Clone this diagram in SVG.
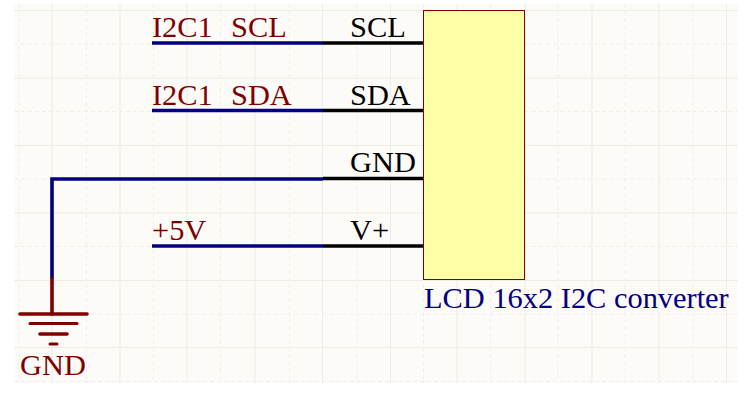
<svg xmlns="http://www.w3.org/2000/svg" width="754" height="408" viewBox="0 0 754 408">
<style>
text{font-family:"Liberation Serif","Times New Roman",serif;font-size:30.400px}
.net{fill:#800000}.pin{fill:#000}.cap{fill:#000080}
.wire{stroke:#000080;stroke-width:3.600;fill:none}
.lead{stroke:#000;stroke-width:3.600;fill:none}
.gnd{stroke:#800000;fill:none;stroke-linecap:round}
.g1{stroke:#efebe6;stroke-width:1;fill:none}
.g2{stroke:#f1eeea;stroke-width:1;fill:none;stroke-dasharray:4 3}
</style>
<rect width="754" height="408" fill="#fff"/>
<g id="grid">
<rect x="14" y="4" width="724" height="379" fill="#fdfbf8"/>
<path class="g1" d="M52 4V383M120 4V383M187 4V383M255 4V383M322.500 4V383M390.500 4V383M457 4V383M525 4V383M592 4V383M659 4V383M726.500 4V383M14 10.500H738M14 78H738M14 145.500H738M14 213H738M14 280.500H738M14 347.500H738"/>
<path class="g2" d="M19 4V383M86.500 4V383M153.500 4V383M220.500 4V383M289.500 4V383M357 4V383M423.500 4V383M490.500 4V383M558 4V383M625 4V383M693 4V383M14 44H738M14 111.500H738M14 179H738M14 246.500H738M14 314H738M14 381.500H738"/>
</g>
<g id="connectors">
<path class="wire" d="M152 43H323M152 110.500H323M152 246H323M52 279V179H323"/>
<path class="lead" d="M323 43H424M323 110.500H424M323 178.500H424M323 246H424"/>
</g>
<g id="lcd">
<rect x="423.500" y="10.500" width="101" height="269" fill="#ffffa8" stroke="#800000" stroke-width="1"/>
<text class="pin" x="350" y="37">SCL</text>
<text class="pin" x="350" y="105">SDA</text>
<text class="pin" x="350" y="172">GND</text>
<text class="pin" x="350" y="240">V+</text>
<text class="cap" x="424" y="308">LCD 16x2 I2C converter</text>
</g>
<g id="net-scl"><text class="net" x="152" y="37">I2C1<tspan x="231">SCL</tspan></text></g>
<g id="net-sda"><text class="net" x="152" y="105">I2C1<tspan x="231">SDA</tspan></text></g>
<g id="net-5v"><text class="net" x="152" y="240">+5V</text></g>
<g id="gnd-symbol">
<path class="gnd" stroke-width="3.600" d="M52 279V314"/>
<path class="gnd" stroke-width="3.600" d="M20 314H87"/>
<path class="gnd" stroke-width="3" d="M30 323.500H77"/>
<path class="gnd" stroke-width="3.600" d="M40 334H67"/>
<path class="gnd" stroke-width="3" d="M50 344H57"/>
<text class="net" x="20" y="375">GND</text>
</g>
</svg>
